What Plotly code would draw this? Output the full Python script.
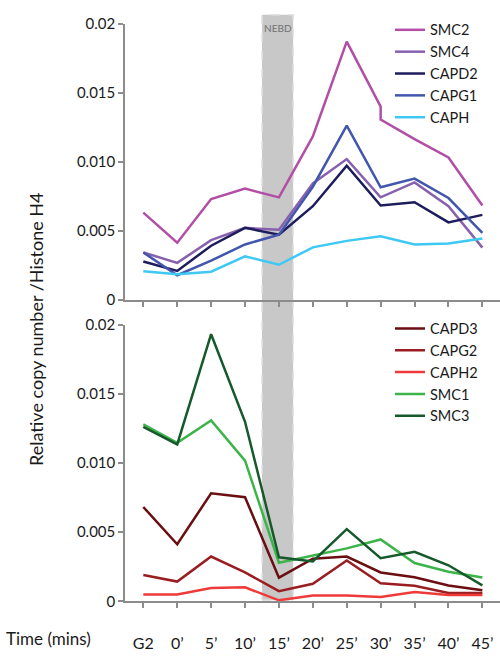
import plotly.graph_objects as go

# Time points (G2 phase, then minutes after release)
times = ["G2", "0’", "5’", "10’", "15’", "20’", "25’", "30’", "35’", "40’", "45’"]
tick_vals = [0, 0.005, 0.010, 0.015, 0.020]
tick_text = ["0", "0.005", "0.010", "0.015", "0.02"]

# Condensin I subunits (upper panel); SMC2 has two readings at 30'
smc2_times = times[:8] + ["30’"] + times[8:]
smc2 = [0.00631, 0.00413, 0.00730, 0.00805, 0.00742, 0.01183, 0.01869, 0.01399, 0.01305, 0.01164, 0.01031, 0.00683]
smc4 = [0.00343, 0.00268, 0.00432, 0.00521, 0.00507, 0.00843, 0.01019, 0.00742, 0.00850, 0.00678, 0.00378]
capd2 = [0.00277, 0.00209, 0.00392, 0.00521, 0.00472, 0.00678, 0.00972, 0.00683, 0.00707, 0.00561, 0.00615]
capg1 = [0.00343, 0.00178, 0.00284, 0.00401, 0.00472, 0.00819, 0.01261, 0.00815, 0.00878, 0.00737, 0.00484]
caph = [0.00207, 0.00185, 0.00204, 0.00315, 0.00254, 0.00380, 0.00427, 0.00460, 0.00401, 0.00408, 0.00444]

# Condensin II / cohesin subunits (lower panel)
capd3 = [0.00683, 0.00413, 0.00782, 0.00754, 0.00171, 0.00308, 0.00324, 0.00209, 0.00174, 0.00115, 0.00080]
capg2 = [0.00190, 0.00143, 0.00324, 0.00209, 0.00073, 0.00127, 0.00296, 0.00131, 0.00113, 0.00061, 0.00061]
caph2 = [0.00049, 0.00049, 0.00096, 0.00101, 0.00007, 0.00042, 0.00042, 0.00031, 0.00068, 0.00045, 0.00045]
smc1 = [0.01282, 0.01148, 0.01310, 0.01019, 0.00279, 0.00331, 0.00383, 0.00448, 0.00277, 0.00214, 0.00172]
smc3 = [0.01263, 0.01136, 0.01934, 0.01300, 0.00319, 0.00289, 0.00523, 0.00312, 0.00359, 0.00261, 0.00115]

upper = [
    ("SMC2", smc2_times, smc2, "#b24ea6"),
    ("SMC4", times, smc4, "#8760ae"),
    ("CAPD2", times, capd2, "#1d1c5c"),
    ("CAPG1", times, capg1, "#4356ad"),
    ("CAPH", times, caph, "#3ec8f4"),
]
lower = [
    ("CAPD3", times, capd3, "#6a0e12"),
    ("CAPG2", times, capg2, "#9a1d22"),
    ("CAPH2", times, caph2, "#ef3a3a"),
    ("SMC1", times, smc1, "#3cb449"),
    ("SMC3", times, smc3, "#16592b"),
]

FONT = "Lato, 'Open Sans', sans-serif"
AXIS_GREY = "#8c8c8c"
TEXT = "#1a1a1a"

fig = go.Figure()
for name, xs, ys, color in upper:
    fig.add_trace(go.Scatter(x=xs, y=ys, name=name, mode="lines",
                             line=dict(color=color, width=2.5),
                             xaxis="x", yaxis="y", legend="legend"))
for name, xs, ys, color in lower:
    fig.add_trace(go.Scatter(x=xs, y=ys, name=name, mode="lines",
                             line=dict(color=color, width=2.5),
                             xaxis="x2", yaxis="y2", legend="legend2"))

x_common = dict(
    type="category", categoryarray=times, categoryorder="array",
    domain=[0.25, 1.0], range=[-0.54, 10.52],
    showline=True, linecolor=AXIS_GREY, linewidth=1.5,
    ticks="outside", ticklen=5, tickcolor=AXIS_GREY, tickwidth=1.5,
    showgrid=False, zeroline=False, fixedrange=True,
)
y_common = dict(
    range=[0, 0.02], tickvals=tick_vals, ticktext=tick_text,
    showline=True, linecolor=AXIS_GREY, linewidth=1.5,
    ticks="outside", ticklen=5, tickcolor=AXIS_GREY, tickwidth=1.5,
    showgrid=False, zeroline=False,
    tickfont=dict(family=FONT, size=15, color=TEXT),
)

legend_common = dict(
    font=dict(family=FONT, size=14.5, color=TEXT),
    bgcolor="rgba(0,0,0,0)", borderwidth=0,
    xanchor="left", yanchor="top", tracegroupgap=0,
    itemwidth=30,
)

fig.update_layout(
    width=500, height=656,
    margin=dict(l=0, r=0, t=0, b=0),
    paper_bgcolor="white", plot_bgcolor="white",
    font=dict(family=FONT, color=TEXT),
    xaxis=dict(**x_common, anchor="y", showticklabels=False),
    xaxis2=dict(**x_common, anchor="y2", showticklabels=True,
                tickfont=dict(family=FONT, size=16, color=TEXT),
                ticklabelstandoff=22),
    yaxis=dict(**y_common, domain=[0.5457, 0.9787], anchor="x"),
    yaxis2=dict(**y_common, domain=[0.0732, 0.5061], anchor="x2"),
    legend=dict(**legend_common, x=390 / 500, y=1 - 4 / 656),
    legend2=dict(**legend_common, x=390 / 500, y=1 - 311 / 656),
    showlegend=True,
)

# Nuclear envelope breakdown window spanning both panels
fig.add_shape(type="rect", xref="x", yref="paper",
              x0=3.5, x1=4.42, y0=1 - 607 / 656, y1=1 - 5 / 656,
              fillcolor="#c8c8c8", line=dict(color="#e2e2e2", width=1.5, dash="dash"),
              layer="below")
fig.add_annotation(text="NEBD", xref="x", yref="paper", x=3.96, y=1 - 19 / 656,
                   yanchor="middle", showarrow=False,
                   font=dict(family=FONT, size=10, color="#707070"))

fig.add_annotation(text="Relative copy number /Histone H4", textangle=-90,
                   xref="paper", yref="paper", x=36 / 500, y=1 - 328 / 656,
                   xanchor="center", yanchor="middle", showarrow=False,
                   font=dict(family=FONT, size=18, color=TEXT))
fig.add_annotation(text="Time (mins)", xref="paper", yref="paper",
                   x=4 / 500, y=1 - 646 / 656, xanchor="left", yanchor="middle",
                   showarrow=False, font=dict(family=FONT, size=17, color=TEXT))

fig.write_html("out.html")
